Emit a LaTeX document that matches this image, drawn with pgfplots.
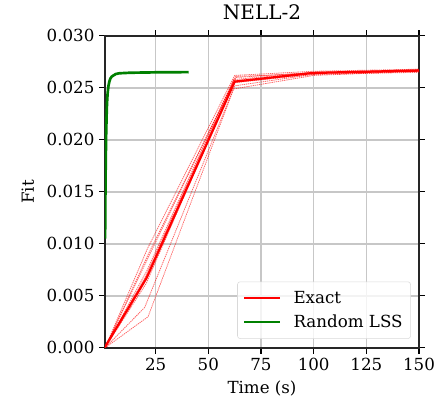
\documentclass[border=0pt]{standalone}
\usepackage{pgfplots}
\pgfplotsset{compat=1.18}
\usepackage{fontspec}
\setmainfont{DejaVu Serif}
\usetikzlibrary{calc}
\definecolor{mplred}{RGB}{255,0,0}
\definecolor{mplgreen}{RGB}{0,128,0}
\pgfplotsset{runline/.style={mplred, opacity=0.6, line width=0.6pt, dash pattern=on 1pt off 0.6pt, forget plot},
  mylegline/.style={legend image code/.code={\draw[#1] (0cm,0cm) -- (0.95cm,0cm); \path (0.95cm+7pt,0cm);}}}
\begin{document}
\begin{tikzpicture}
\begin{axis}[
  scale only axis,
  width=235.5pt, height=234pt,
  xmin=0.95, xmax=150, ymin=0, ymax=0.030,
  xtick={25,50,75,100,125,150},
  ytick={0,0.005,0.010,0.015,0.020,0.025,0.030},
  scaled y ticks=false,
  font=\fontsize{12.5}{15}\selectfont,
  /pgf/number format/assume math mode=true,
  y tick label style={/pgf/number format/fixed, /pgf/number format/fixed zerofill, /pgf/number format/precision=3},
  tick align=outside,
  major tick length=4.4pt,
  tick style={black, line width=0.8pt},
  axis line style={black!85, line width=0.9pt},
  grid=major,
  major grid style={line width=1pt, color=black!22},
  title={NELL-2},
  title style={font=\fontsize{15}{18}\selectfont, at={(axis description cs:0.5,1.051)}, anchor=center},
  xlabel={Time (s)},
  xlabel style={at={(axis description cs:0.5,-0.131)}, anchor=center},
  ylabel={Fit},
  ylabel style={at={(axis description cs:-0.246,0.5)}, anchor=center},
  legend style={at={(0.974,0.029)}, anchor=south east, draw=black!15, rounded corners=2pt,
    fill=white, fill opacity=0.8, text opacity=1, row sep=3pt, inner xsep=4pt, inner ysep=5pt,
    font=\fontsize{12.5}{15}\selectfont},
  legend cell align=left,
]
\addplot[runline] coordinates {(0.95,0) (21.4,0.0030) (62,0.0249) (100,0.0262) (150,0.0266)};
\addplot[runline] coordinates {(0.95,0) (19.8,0.0039) (62.5,0.0252) (100,0.0263) (150,0.0265)};
\addplot[runline] coordinates {(0.95,0) (21,0.0075) (62,0.0258) (100,0.0265) (150,0.0267)};
\addplot[runline] coordinates {(0.95,0) (21,0.0085) (63,0.0261) (100,0.0264) (150,0.0268)};
\addplot[runline] coordinates {(0.95,0) (21,0.0095) (62.5,0.0262) (100,0.0266) (150,0.0268)};
\addplot[runline] coordinates {(0.95,0) (20.5,0.0062) (62,0.0255) (100,0.0263) (150,0.0266)};
\addplot[runline] coordinates {(0.95,0) (21.5,0.0090) (63,0.0260) (100,0.0265) (150,0.0267)};
\addplot[runline] coordinates {(0.95,0) (20,0.0068) (62,0.0257) (100,0.0264) (150,0.0266)};
\addplot[mplred, line width=1.7pt, mylegline] coordinates {(0.95,0.0001) (20.6,0.0067) (62.5,0.0256) (99.7,0.02644) (150,0.02667)};
\addlegendentry{Exact}
\addplot[mplgreen, line width=2pt, mylegline] coordinates {
(1.0,0.0105) (1.1,0.0135) (1.2,0.0160) (1.35,0.0185) (1.5,0.0205) (1.7,0.0222) (1.9,0.0235)
(2.2,0.0245) (2.6,0.0252) (3.0,0.0256) (3.5,0.0259) (4.2,0.0261) (5,0.0262) (6,0.02633)
(7.5,0.0264) (9,0.02642) (12,0.02645) (16,0.02647) (20,0.02648) (25,0.0265) (30,0.0265)
(35,0.02651) (40.7,0.02652)};
\addlegendentry{Random LSS}
\end{axis}
\path ($(current axis.south west)+(-78.75pt,-39pt)$) rectangle ($(current axis.north east)+(18pt,26.25pt)$);
\end{tikzpicture}
\end{document}
